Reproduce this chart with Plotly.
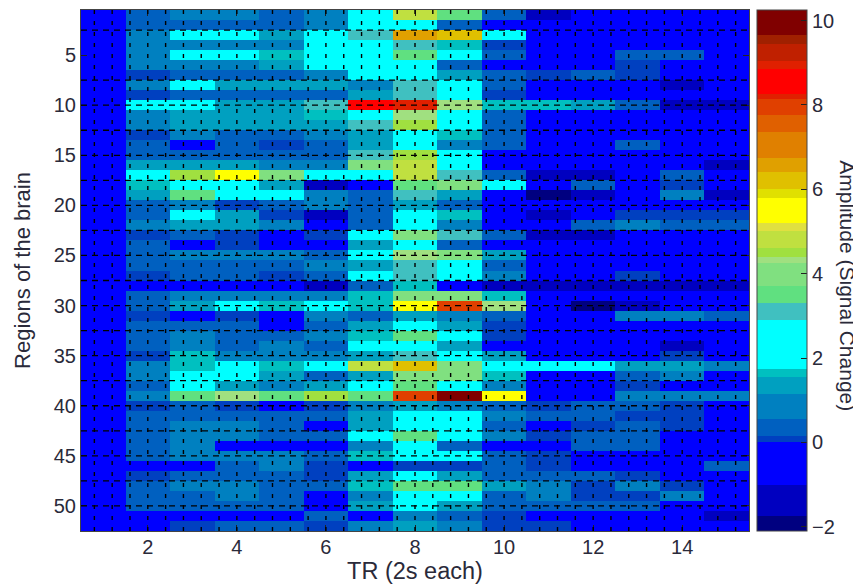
import plotly.graph_objects as go

# Colour bands of the colour bar: value limits and the colour between them
band_edges = [-2.1, -1.75, -1.0, 0.0, 0.15, 0.55, 1.15, 1.55, 1.75, 2.9, 3.3, 3.7, 4.25, 4.4, 4.6, 5.0, 5.2,
              5.8, 6.0, 6.4, 6.75, 7.35, 7.75, 8.15, 8.25, 8.85, 9.05, 9.45, 9.65, 10.25]
band_colors = ["#000080", "#0000c0", "#0000ff", "#0040c0", "#0060c0", "#0080c0", "#00a0c0", "#00c0c0", "#00ffff",
               "#40c0c0", "#60e080", "#80e080", "#a0e080", "#a0e040", "#c0e040", "#e0e040", "#ffff00", "#e0e000",
               "#e0c000", "#e0a000", "#e08000", "#e06000", "#e04000", "#e02000", "#ff0000", "#e02000", "#c02000",
               "#a02000", "#800000"]

tr_values = list(range(1, 16))
region_values = list(range(1, 53))
x_tick_values = [2, 4, 6, 8, 10, 12, 14]
y_tick_values = [5, 10, 15, 20, 25, 30, 35, 40, 45, 50]
colorbar_ticks = [-2, 0, 2, 4, 6, 8, 10]

# Dashed guide positions
guide_x = [0.8 + 0.4 * i for i in range(37)]
guide_y = [2.5, 7.5, 10, 12.5, 15, 17.5, 20, 22.5, 25, 27.5, 30, 32.5, 35, 37.5, 40, 42.5, 45, 47.5, 50]

# Amplitude per region (rows) and TR (columns)
amplitude = [
    [-.5, .3, .8, .8, .3, .8, 2.3, 4.8, 3.5, .3, -1.3, -.5, -.5, -.5, -.5],
    [-.5, .3, .3, .3, .3, .8, 2.3, 2.3, .3, -.5, -.5, -.5, -.5, -.5, -.5],
    [-.5, .8, 2.3, 2.3, 1.3, 2.3, 3.1, 6.6, 6.2, 2.3, -.5, -.5, -.5, -.5, -.5],
    [-.5, .8, .8, .8, .8, 2.3, 2.3, 3.1, 1.6, .1, -.5, -.5, -.5, -.5, -.5],
    [-.5, .8, 2.3, 2.3, 1.6, 2.3, 2.3, 3.5, 2.3, .3, -.5, -.5, .3, .3, -.5],
    [-.5, .8, .8, .8, 1.3, 2.3, 2.3, 2.3, .3, -.5, -.5, -.5, .1, -.5, -.5],
    [-.5, .1, .3, .3, .3, .8, 2.3, 2.3, 1.3, .3, .1, .3, .1, -.5, -.5],
    [-.5, .8, 2.3, 1.3, 1.3, 1.3, .8, 3.1, 2.3, .3, -.5, -.5, -.5, -1.3, -.5],
    [-.5, .1, .3, .3, .3, .3, 1.3, 3.1, 2.3, .1, -.5, -.5, -.5, -.5, -.5],
    [-.5, 2.3, 2.3, 1.3, 1.3, 3.1, 8.5, 8.2, 4.3, 1.6, 1.6, 1.3, .3, -1.3, -1.3],
    [-.5, .8, 1.3, 1.3, 1.3, 1.6, 2.3, 4.3, 2.3, .3, -.5, -.5, -.5, -.5, -.5],
    [-.5, .8, 1.3, 1.3, 1.3, 1.3, 3.1, 4.5, 2.3, .3, -.5, -.5, -.5, -.5, -.5],
    [-.5, .1, .8, .3, .3, .8, 1.3, 2.3, 1.6, .3, -.5, -.5, -.5, -.5, -.5],
    [-.5, .3, -.5, .3, .1, .3, 1.3, 2.3, .8, .3, -.5, -.5, .3, -.5, -.5],
    [-.5, .3, .3, .3, .3, .3, 3.1, 4.5, 2.3, -.5, -.5, -.5, -.5, -.5, -.5],
    [-.5, 1.3, 1.3, 1.3, .8, .8, 4.0, 4.8, 2.3, -.5, -.5, -.5, -.5, -.5, -1.3],
    [-.5, 2.3, 4.5, 5.5, 4.0, 2.3, 2.3, 4.8, 3.1, .3, -1.3, -1.3, -.5, .3, -.5],
    [-.5, 1.6, 2.3, 2.3, 1.3, -1.3, -.5, 3.5, 4.0, 2.3, -.5, .3, -.5, .1, -.5],
    [-.5, 1.3, 3.5, 2.3, 2.3, .8, .3, 3.1, 1.3, -.5, -1.9, -1.3, -.5, .8, -1.3],
    [-.5, .3, .8, .1, .3, .8, .3, 1.3, .3, -.5, -.5, -.5, -.5, -.5, -.5],
    [-.5, .3, 2.3, 1.3, .1, -1.3, .3, 2.3, 1.6, -.5, -1.3, -.5, .1, .1, .1],
    [-.5, .8, 1.3, 1.3, .8, -.5, .3, 2.3, .8, -.5, -.5, .3, .8, .3, .3],
    [-.5, .1, .3, .1, -.5, .1, 2.3, 4.0, 3.1, .3, -1.3, -1.3, -.5, -.5, -.5],
    [-.5, .3, -.5, .1, -.5, -.5, 1.3, 2.3, .3, -.5, -.5, -.5, -.5, -.5, -.5],
    [-.5, .3, .8, .8, .8, .3, 2.3, 4.3, 4.0, 1.3, -.5, -.5, -.5, -.5, -.5],
    [-.5, .3, .3, .3, .3, .8, 1.3, 3.1, 2.3, .3, -.5, -.5, -.5, -.5, -.5],
    [-.5, .1, .3, .3, .1, .3, 2.3, 3.1, 2.3, .8, -.5, -.5, .1, -.5, -.5],
    [-.5, -.5, -.5, -.5, -.5, -1.3, .3, 1.6, -.5, -1.3, -1.3, -1.3, -1.3, -1.3, -1.3],
    [-.5, .3, .8, .8, .8, .8, 1.6, 4.0, 4.0, 1.6, -.5, -.5, -.5, -.5, -.5],
    [-.5, .3, 1.3, 2.3, 1.6, 2.3, 1.6, 5.5, 8.0, 4.3, -.5, -1.9, -1.3, -.5, -.5],
    [-.5, .1, -.5, .1, -.5, .8, .3, 1.3, .8, .3, -.5, -.5, .8, .8, .3],
    [-.5, .3, .3, .3, -.5, .3, 1.3, 2.3, 1.3, .1, -.5, -.5, -.5, -.5, -.5],
    [-.5, .3, .8, .3, .3, .8, 1.6, 3.5, 2.3, .1, -.5, -.5, -.5, -.5, -.5],
    [-.5, .3, .8, .3, .8, .3, 2.3, 2.3, 1.3, -.5, -.5, -.5, -.5, -1.3, -.5],
    [-.5, .1, 1.6, .8, .8, .8, 1.3, 3.1, 2.3, 1.3, -.5, -.5, -.5, .1, -.5],
    [-.5, .8, 1.6, 2.3, 1.6, 2.3, 4.8, 6.2, 4.0, 2.3, 2.3, 2.3, 1.3, 1.3, .8],
    [-.5, .8, 2.3, 2.3, 1.3, .3, 1.3, 4.0, 4.0, 1.6, -.5, -.5, .3, .8, -.5],
    [-.5, .3, 2.3, 1.3, .8, 1.3, 2.3, 3.5, 2.3, .8, -.5, -.5, .1, -.5, -.5],
    [-.5, .8, 3.5, 4.3, 3.5, 4.5, 3.5, 8.0, 10.0, 5.5, -.5, -.5, .8, .8, .8],
    [-.5, .1, .3, .1, -.5, .1, .8, 1.3, .8, .3, .1, .3, .3, .1, -.5],
    [-.5, .3, .3, .3, .3, .3, 1.3, 2.3, 2.3, .8, .3, .3, .1, .1, -.5],
    [-.5, .3, .8, .8, .3, -.5, 1.3, 2.3, 2.3, .3, -.5, .1, .3, .1, -.5],
    [-.5, .3, .8, .8, .3, .3, 2.3, 3.5, 2.3, .8, .1, .3, .3, -.5, -.5],
    [-.5, .3, .8, -.5, -.5, -.5, .8, 2.3, .3, -.5, -.5, .3, .3, -.5, -.5],
    [-.5, .3, .8, .8, .8, .3, 1.6, 2.3, 2.3, .3, .1, -.5, -.5, -.5, -.5],
    [-.5, -.5, -.5, .3, .8, .1, -.5, .1, .1, .3, .1, -.5, -.5, -.5, .3],
    [-.5, .1, .3, .3, .3, .1, 1.3, 2.3, 1.3, .3, .3, .3, .1, -.5, -.5],
    [-.5, .3, .8, .8, .3, .3, 1.6, 3.5, 3.5, 1.3, .8, .1, .8, .1, -.5],
    [-.5, .3, .3, .8, .3, -.5, .8, 2.3, 2.3, .3, .8, .1, .1, .8, -.5],
    [-.5, .3, .3, .3, .3, -.5, 1.3, 2.3, 1.3, .3, .3, .3, .3, -.5, -.5],
    [-.5, -.5, -.5, -.5, -.5, .3, -.5, .8, .3, .1, -.5, -.5, -.5, -.5, -1.3],
    [-.5, -.5, .1, .3, .3, .1, .8, 1.3, .8, .1, .1, -.5, -.5, -.5, -.5],
]

# Stepped colour scale built from the bands
span = band_edges[-1] - band_edges[0]
colorscale = []
for low, high, color in zip(band_edges[:-1], band_edges[1:], band_colors):
    colorscale.append([(low - band_edges[0]) / span, color])
    colorscale.append([(high - band_edges[0]) / span, color])

TEXT = "#2a2a3a"
FONT = "Liberation Sans, Arial, sans-serif"

fig = go.Figure(go.Heatmap(
    x=tr_values,
    y=region_values,
    z=amplitude,
    zmin=band_edges[0],
    zmax=band_edges[-1],
    colorscale=colorscale,
    xgap=0,
    ygap=0,
    colorbar=dict(
        thickness=50,
        thicknessmode="pixels",
        len=1.0,
        lenmode="fraction",
        x=1.012,
        xanchor="left",
        xpad=0,
        y=0.5,
        yanchor="middle",
        ypad=0,
        tickvals=colorbar_ticks,
        ticks="inside",
        ticklen=6,
        tickcolor="#222222",
        tickfont=dict(size=20, color=TEXT, family=FONT),
        outlinecolor="#444444",
        outlinewidth=1,
        borderwidth=0,
    ),
))

shapes = []
for gx in guide_x:
    shapes.append(dict(type="line", xref="x", yref="y", x0=gx, x1=gx, y0=0.5, y1=52.5, layer="above",
                       line=dict(color="black", width=1.4, dash="4px,7px")))
for gy in guide_y:
    shapes.append(dict(type="line", xref="x", yref="y", x0=0.5, x1=15.5, y0=gy, y1=gy, layer="above",
                       line=dict(color="black", width=1.3, dash="6px,5px")))

axis_style = dict(
    showgrid=False, zeroline=False, showline=True, linecolor="#444444", linewidth=1, mirror="allticks",
    ticks="inside", ticklen=6, tickcolor="#222222", tickfont=dict(size=20, color=TEXT, family=FONT),
)

fig.update_layout(
    width=853,
    height=578,
    margin=dict(l=73, r=112, t=2, b=55),
    paper_bgcolor="white",
    plot_bgcolor="white",
    shapes=shapes,
    annotations=[dict(
        text="Amplitude (Signal Change)", xref="paper", yref="paper", x=1.148, y=0.47,
        xanchor="center", yanchor="middle", textangle=90, showarrow=False,
        font=dict(size=21, color=TEXT, family=FONT),
    )],
    xaxis=dict(range=[0.5, 15.5], tickvals=x_tick_values, ticklabelstandoff=-2,
               title=dict(text="TR (2s each)", font=dict(size=23.5, color=TEXT, family=FONT), standoff=2), **axis_style),
    yaxis=dict(range=[52.5, 0.5], tickvals=y_tick_values,
               title=dict(text="Regions of the brain", font=dict(size=22, color=TEXT, family=FONT), standoff=17), **axis_style),
)

fig.write_html("out.html", config=dict(displayModeBar=False))
